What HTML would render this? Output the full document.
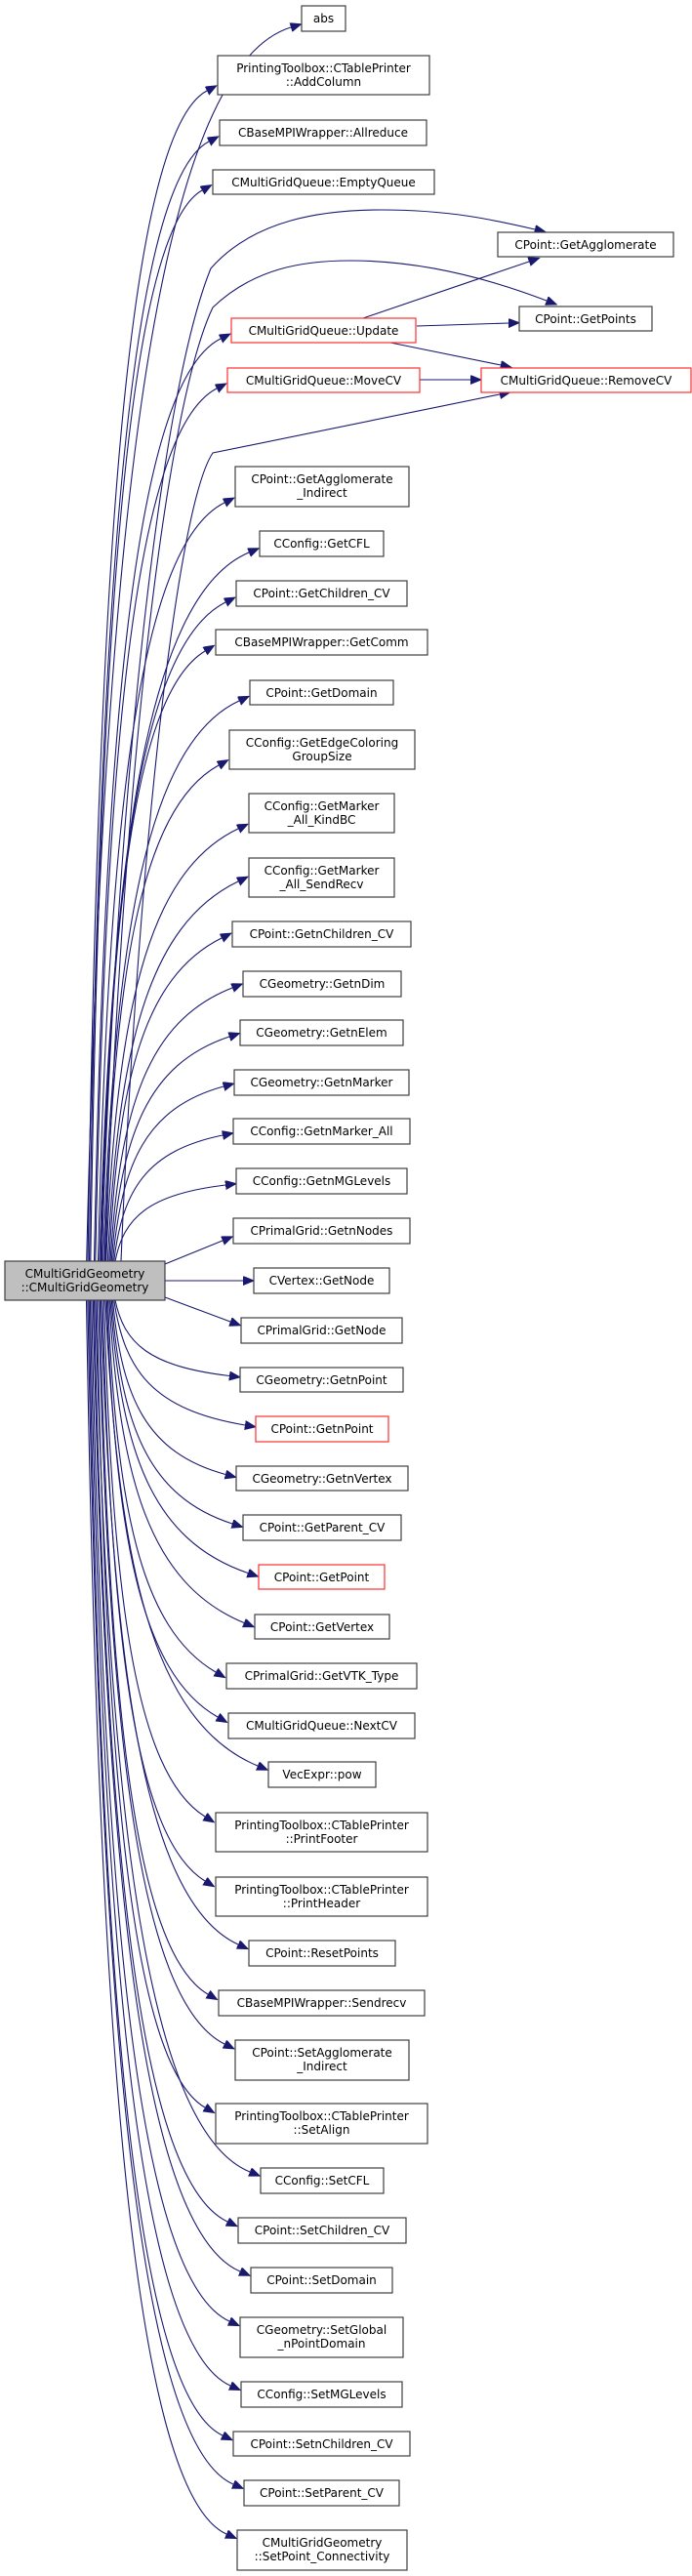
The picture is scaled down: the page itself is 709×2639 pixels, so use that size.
<!DOCTYPE html>
<html><head><meta charset="utf-8">
<style>
html,body{margin:0;padding:0;background:#fff;}
svg{display:block;}
text{font-family:"DejaVu Sans","Liberation Sans",sans-serif;font-size:12px;fill:#000;}
rect{fill:#fff;stroke:#404040;stroke-width:1.2;}
rect.r{stroke:#ff3030;}
rect.m{fill:#bfbfbf;}
path.e{fill:none;stroke:#191970;stroke-width:1.1;}
</style></head>
<body>
<svg id="g" width="709" height="2639" viewBox="0 0 709 2639" xmlns="http://www.w3.org/2000/svg">
<defs><marker id="a" markerUnits="userSpaceOnUse" markerWidth="12" markerHeight="10" refX="0" refY="4.5" orient="auto"><path d="M0,0 L11,4.5 L0,9 z" fill="#191970" stroke="#191970"/></marker></defs>
<g id="edges"></g>
<g text-anchor="middle">
<rect class="m" x="5" y="1292" width="164" height="40"/><text x="87" y="1309">CMultiGridGeometry</text><text x="87" y="1323">::CMultiGridGeometry</text>

<rect class="t" x="309" y="6" width="45" height="26"/><text x="331.5" y="23">abs</text>
<rect class="t" x="223" y="57" width="217" height="40"/><text x="331.5" y="74">PrintingToolbox::CTablePrinter</text><text x="331.5" y="88">::AddColumn</text>
<rect class="t" x="225" y="123" width="212" height="26"/><text x="331" y="140">CBaseMPIWrapper::Allreduce</text>
<rect class="t" x="218" y="174" width="227" height="25"/><text x="331.5" y="191">CMultiGridQueue::EmptyQueue</text>
<rect x="510" y="238" width="180" height="25"/><text x="600" y="255">CPoint::GetAgglomerate</text>
<rect x="532" y="314" width="136" height="25"/><text x="600" y="331">CPoint::GetPoints</text>
<rect class="t r" x="237" y="326" width="189" height="25"/><text x="331.5" y="343">CMultiGridQueue::Update</text>
<rect class="t r" x="233" y="377" width="197" height="25"/><text x="331.5" y="394">CMultiGridQueue::MoveCV</text>
<rect class="r" x="493" y="377" width="215" height="25"/><text x="600.5" y="394">CMultiGridQueue::RemoveCV</text>

<rect class="t" x="241" y="478" width="178" height="41"/><text x="330" y="495">CPoint::GetAgglomerate</text><text x="330" y="509">_Indirect</text>
<rect class="t" x="266" y="544" width="127" height="26"/><text x="329.5" y="561">CConfig::GetCFL</text>
<rect class="t" x="242" y="595" width="175" height="26"/><text x="329.5" y="612">CPoint::GetChildren_CV</text>
<rect class="t" x="221" y="645" width="217" height="26"/><text x="329.5" y="662">CBaseMPIWrapper::GetComm</text>
<rect class="t" x="256" y="697" width="147" height="25"/><text x="329.5" y="714">CPoint::GetDomain</text>
<rect class="t" x="235" y="748" width="190" height="40"/><text x="330" y="765">CConfig::GetEdgeColoring</text><text x="330" y="779">GroupSize</text>
<rect class="t" x="255" y="813" width="149" height="40"/><text x="329.5" y="830">CConfig::GetMarker</text><text x="329.5" y="844">_All_KindBC</text>
<rect class="t" x="255" y="879" width="149" height="40"/><text x="329.5" y="896">CConfig::GetMarker</text><text x="329.5" y="910">_All_SendRecv</text>
<rect class="t" x="238" y="944" width="183" height="26"/><text x="329.5" y="961">CPoint::GetnChildren_CV</text>
<rect class="t" x="249" y="995" width="162" height="26"/><text x="330" y="1012">CGeometry::GetnDim</text>
<rect class="t" x="246" y="1045" width="167" height="26"/><text x="329.5" y="1062">CGeometry::GetnElem</text>
<rect class="t" x="240" y="1096" width="179" height="26"/><text x="329.5" y="1113">CGeometry::GetnMarker</text>
<rect class="t" x="239" y="1146" width="181" height="26"/><text x="329.5" y="1163">CConfig::GetnMarker_All</text>
<rect class="t" x="242" y="1197" width="175" height="26"/><text x="329.5" y="1214">CConfig::GetnMGLevels</text>
<rect class="t" x="239" y="1248" width="181" height="26"/><text x="329.5" y="1265">CPrimalGrid::GetnNodes</text>
<rect class="t" x="260" y="1299" width="139" height="26"/><text x="329.5" y="1316">CVertex::GetNode</text>
<rect class="t" x="247" y="1350" width="165" height="26"/><text x="329.5" y="1367">CPrimalGrid::GetNode</text>
<rect class="t" x="246" y="1401" width="167" height="25"/><text x="329.5" y="1418">CGeometry::GetnPoint</text>
<rect class="t r" x="262" y="1451" width="136" height="26"/><text x="330" y="1468">CPoint::GetnPoint</text>
<rect class="t" x="242" y="1502" width="176" height="25"/><text x="330" y="1519">CGeometry::GetnVertex</text>
<rect class="t" x="249" y="1552" width="162" height="26"/><text x="330" y="1569">CPoint::GetParent_CV</text>
<rect class="t r" x="265" y="1603" width="129" height="25"/><text x="329.5" y="1620">CPoint::GetPoint</text>
<rect class="t" x="261" y="1654" width="138" height="25"/><text x="330" y="1671">CPoint::GetVertex</text>
<rect class="t" x="232" y="1704" width="195" height="26"/><text x="329.5" y="1721">CPrimalGrid::GetVTK_Type</text>
<rect class="t" x="234" y="1755" width="191" height="26"/><text x="329.5" y="1772">CMultiGridQueue::NextCV</text>
<rect class="t" x="275" y="1805" width="110" height="26"/><text x="330" y="1822">VecExpr::pow</text>
<rect class="t" x="221" y="1857" width="217" height="40"/><text x="329.5" y="1874">PrintingToolbox::CTablePrinter</text><text x="329.5" y="1888">::PrintFooter</text>
<rect class="t" x="221" y="1923" width="217" height="40"/><text x="329.5" y="1940">PrintingToolbox::CTablePrinter</text><text x="329.5" y="1954">::PrintHeader</text>
<rect class="t" x="255" y="1988" width="150" height="26"/><text x="330" y="2005">CPoint::ResetPoints</text>
<rect class="t" x="224" y="2039" width="211" height="26"/><text x="329.5" y="2056">CBaseMPIWrapper::Sendrecv</text>
<rect class="t" x="241" y="2090" width="178" height="41"/><text x="330" y="2107">CPoint::SetAgglomerate</text><text x="330" y="2121">_Indirect</text>
<rect class="t" x="221" y="2155" width="217" height="41"/><text x="329.5" y="2172">PrintingToolbox::CTablePrinter</text><text x="329.5" y="2186">::SetAlign</text>
<rect class="t" x="267" y="2221" width="126" height="26"/><text x="330" y="2238">CConfig::SetCFL</text>
<rect class="t" x="244" y="2272" width="172" height="26"/><text x="330" y="2289">CPoint::SetChildren_CV</text>
<rect class="t" x="257" y="2323" width="145" height="26"/><text x="329.5" y="2340">CPoint::SetDomain</text>
<rect class="t" x="246" y="2374" width="167" height="41"/><text x="329.5" y="2391">CGeometry::SetGlobal</text><text x="329.5" y="2405">_nPointDomain</text>
<rect class="t" x="247" y="2440" width="165" height="26"/><text x="329.5" y="2457">CConfig::SetMGLevels</text>
<rect class="t" x="239" y="2491" width="181" height="25"/><text x="329.5" y="2508">CPoint::SetnChildren_CV</text>
<rect class="t" x="250" y="2541" width="159" height="26"/><text x="329.5" y="2558">CPoint::SetParent_CV</text>
<rect class="t" x="243" y="2592" width="174" height="41"/><text x="330" y="2609">CMultiGridGeometry</text><text x="330" y="2623">::SetPoint_Connectivity</text>
</g>
</svg>
<script>
(function(){
var NS="http://www.w3.org/2000/svg",g=document.getElementById("edges");
function add(d){var p=document.createElementNS(NS,"path");p.setAttribute("d",d);p.setAttribute("class","e");p.setAttribute("marker-end","url(#a)");g.appendChild(p);}
var rs=document.querySelectorAll("rect.t");
for(var i=0;i<rs.length;i++){
 var r=rs[i],x=+r.getAttribute("x"),y=+r.getAttribute("y"),h=+r.getAttribute("height");
 var ty=y+h/2,tx=x-11;
 if(Math.abs(ty-1312)<5){add("M169,1312 L"+tx+","+ty);continue;}
 if(ty>1240&&ty<1280){add("M169,1295 L"+(x-11)+","+(y+h-3));continue;}
 if(ty>1345&&ty<1380){add("M169,1329 L"+(x-11)+","+(y+4));continue;}
 var up=ty<1312,y0=up?1292:1332,d=Math.abs(y0-ty),s=up?-1:1;
 var x0=120-Math.min(d,1300)/1300*32;
 var ey=up?(y+h-4):(y+4);
 if(d<400){ey=ty+(up?4:-4);}
 var p1x=x0+(tx-x0)*0.08,p1y=y0+s*d*0.55;
 var p2x=x0+(tx-x0)*0.3,p2y=ey-s*Math.min(d*0.12,45);
 add("M"+x0.toFixed(1)+","+y0+" C"+p1x.toFixed(1)+","+p1y.toFixed(1)+" "+p2x.toFixed(1)+","+p2y.toFixed(1)+" "+tx+","+ey);
}
add("M104,1292 C120,800 165,400 216,275 C260,225 330,215 391,215 C460,215 505,225 548,235");
add("M108,1292 C124,820 168,420 218,315 C260,275 310,267 359,267 C430,267 500,285 560,308");
add("M124,1292 C140,900 180,520 218,464 L512,404");
add("M372,326 L542,268");
add("M427,334 L521,331");
add("M400,351 L513,374");
add("M430,389 L482,389");
})();
</script>
</body></html>
